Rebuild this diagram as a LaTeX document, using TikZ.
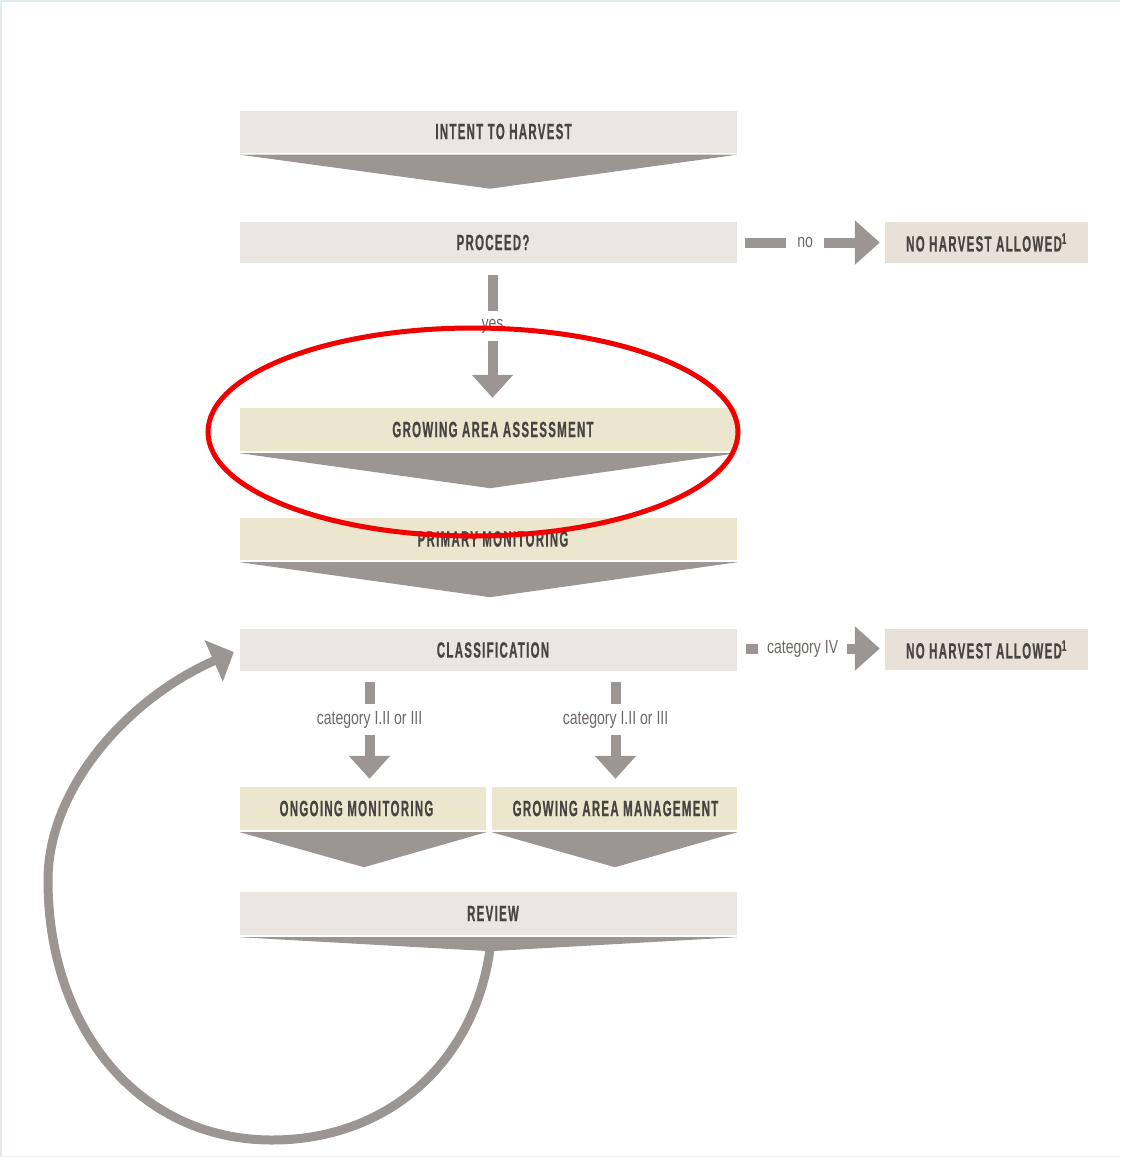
\documentclass[tikz,border=0pt]{standalone}
\usepackage{fontspec}
\usetikzlibrary{arrows.meta,calc}
\newfontfamily\boxfont{Liberation Sans}[FakeStretch=0.52,LetterSpace=6,BoldFeatures={FakeBold=0.6}]
\newfontfamily\labfont{Liberation Sans}[FakeStretch=0.74]
\definecolor{boxgrey}{HTML}{EBE6E2}
\definecolor{boxyel}{HTML}{ECE6CE}
\definecolor{boxno}{HTML}{E9E1D7}
\definecolor{flow}{HTML}{9B9593}
\definecolor{txt}{HTML}{484442}
\definecolor{lab}{HTML}{6E6966}
\definecolor{framec}{HTML}{E3EAEE}
\definecolor{marker}{HTML}{F00000}
\tikzset{
  box/.style={draw=none, minimum width=497pt, minimum height=42pt, inner sep=0pt,
    font=\boxfont\bfseries\fontsize{22}{22}\selectfont, text=txt},
  greybox/.style={box, fill=boxgrey},
  yelbox/.style={box, fill=boxyel},
  halfbox/.style={minimum width=246pt, minimum height=43pt},
  nobox/.style={box, fill=boxno, minimum width=203pt, minimum height=41pt},
  chev/.style={fill=flow, draw=none},
  vflow/.style={draw=flow, line width=10pt, -{Triangle[length=23pt,width=40pt]}},
  hflow/.style={draw=flow, line width=10pt, -{Triangle[length=25pt,width=43pt]}},
  lbl/.style={fill=white, inner sep=0pt, text=lab,
    font=\labfont\fontsize{19}{19}\selectfont},
  loopline/.style={draw=flow, line width=9pt, -{Triangle[length=22pt,width=44pt]}},
  ring/.style={draw=marker, line width=5pt}
}
\begin{document}
\begin{tikzpicture}[x=1pt, y=-1pt]
\useasboundingbox (0,0) rectangle (1120,1157);
\draw[framec, line width=3pt] (1120,0) -- (0,0) -- (0,1157) -- (1120,1157);

% boxes
\node[greybox] (intent) at (488.5,131.5) {\hspace*{30pt}INTENT TO HARVEST};
\node[greybox, minimum height=41pt] (proceed) at (488.5,242.5) {\hspace*{9pt}PROCEED?};
\node[nobox] (noA) at (986.5,242.5) {NO HARVEST ALLOWED\textsuperscript{1}};
\node[yelbox, minimum height=43pt] (gaa) at (488.5,429.5) {\hspace*{9pt}GROWING AREA ASSESSMENT};
\node[yelbox] (pm) at (488.5,539) {\hspace*{9pt}PRIMARY MONITORING};
\node[greybox] (cls) at (488.5,650) {\hspace*{9pt}CLASSIFICATION};
\node[nobox] (noB) at (986.5,649.5) {NO HARVEST ALLOWED\textsuperscript{1}};
\node[yelbox, halfbox] (om) at (363,808.5) {ONGOING MONITORING\hspace*{13pt}};
\node[yelbox, halfbox, minimum width=245pt] (gam) at (614.5,808.5) {\hspace*{2pt}GROWING AREA MANAGEMENT};
\node[greybox, minimum height=43pt] (review) at (488.5,913.5) {\hspace*{9pt}REVIEW};

% loop back from review to classification
\coordinate (loopS) at ($(review.south)+(1.5,14)$);
\coordinate (loopE) at ($(cls.west)+(-6,2)$);
\draw[loopline] (loopS) .. controls (475,1060) and (390,1140) .. (272,1140)
  .. controls (140,1140) and (48,1030) .. (48,880)
  .. controls (48,790) and (125,700) .. (loopE);

% chevrons
\fill[chev] ($(intent.south west)+(0,2)$) -- ($(intent.south east)+(0,2)$) -- ($(intent.south)+(1.5,36)$) -- cycle;
\fill[chev] ($(gaa.south west)+(0,2)$) -- ($(gaa.south east)+(0,2)$) -- ($(gaa.south)+(1.5,37)$) -- cycle;
\fill[chev] ($(pm.south west)+(0,2)$) -- ($(pm.south east)+(0,2)$) -- ($(pm.south)+(1.5,37)$) -- cycle;
\fill[chev] ($(om.south west)+(0,2)$) -- ($(om.south east)+(0,2)$) -- ($(om.south)+(1,37)$) -- cycle;
\fill[chev] ($(gam.south west)+(0,2)$) -- ($(gam.south east)+(0,2)$) -- ($(gam.south)+(0.5,37)$) -- cycle;
\fill[chev] ($(review.south west)+(0,2)$) -- ($(review.south east)+(0,2)$) -- ($(review.south)+(1.5,16)$) -- cycle;

% connectors
\draw[hflow, shorten <=8pt, shorten >=5pt] (proceed.east) -- (noA.west)
  node[lbl, pos=0.46, minimum width=38pt, minimum height=16pt] (lno) {no};
\draw[hflow, shorten <=9pt, shorten >=5pt] ($(cls.east)+(0,-1.5)$) -- ($(noB.west)+(0,-1)$)
  node[lbl, pos=0.443, minimum width=89pt, minimum height=16pt] (lcat) {category IV};
\draw[vflow, shorten <=12pt, shorten >=10pt] ($(proceed.south)+(4,0)$) -- ($(gaa.north)+(4,0)$)
  node[lbl, pos=0.435, minimum width=30pt, minimum height=30pt] (lyes) {yes};
\draw[vflow, shorten <=11pt, shorten >=8pt] ($(cls.south -| om.north)+(6.5,0)$) -- ($(om.north)+(6.5,0)$)
  node[lbl, pos=0.42, minimum height=31pt] (lc1) {category I.II or III};
\draw[vflow, shorten <=11pt, shorten >=8pt] ($(cls.south -| gam.north)+(1,0)$) -- ($(gam.north)+(1,0)$)
  node[lbl, pos=0.42, minimum height=31pt] (lc2) {category I.II or III};

% red highlight ellipse
\draw[ring] (473,432) ellipse [x radius=265, y radius=104];
\end{tikzpicture}
\end{document}
